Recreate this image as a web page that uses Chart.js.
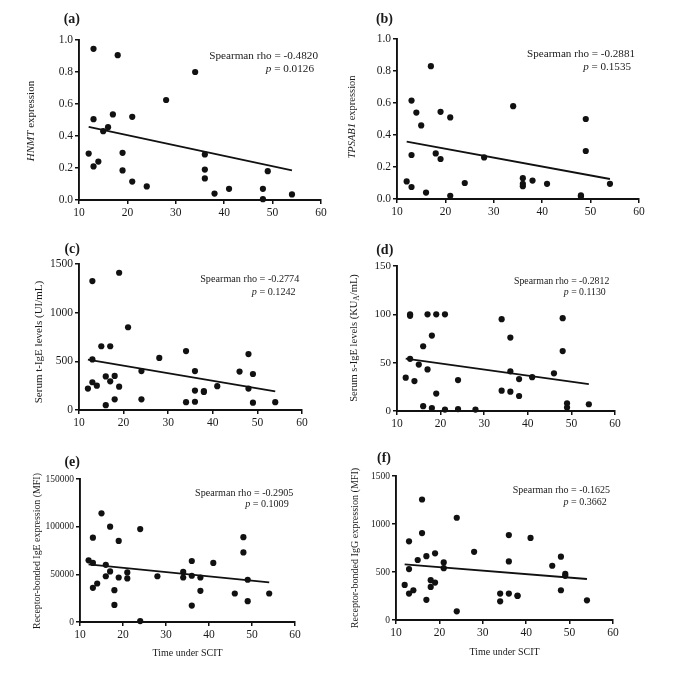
<!DOCTYPE html>
<html><head><meta charset="utf-8">
<script src="https://cdn.jsdelivr.net/npm/chart.js@4.4.0/dist/chart.umd.min.js"></script>
<style>
html,body{margin:0;padding:0;background:#fff;}
#wrap{position:relative;width:685px;height:682px;overflow:hidden;background:#fff;font-family:'Liberation Serif','Times New Roman',serif;color:#1a1a1a;}
canvas{position:absolute;}
.t{position:absolute;white-space:nowrap;line-height:1;}
.ann{transform:translateY(-50%);text-align:right;}
.yt{transform:translate(-50%,-50%) rotate(-90deg);}
.xt{transform:translate(-50%,-50%);}
.lab{font-weight:bold;font-size:14px;transform:translateY(-50%);}
sub{font-size:0.72em;vertical-align:-0.3em;line-height:0;}
</style></head><body><div id="wrap"></div>
<script>
// ---- data ----
const xTicks = [10, 20, 30, 40, 50, 60];
const fitX = [12, 54];

const timeA = [13,18,34,28,17,21,13,16,15,12,19,36,13,14,19,36,49,36,21,24,38,41,48,48,54];
const hnmt  = [0.945,0.905,0.80,0.625,0.535,0.52,0.505,0.455,0.43,0.29,0.295,0.285,0.21,0.24,0.185,0.19,0.18,0.135,0.115,0.085,0.04,0.07,0.07,0.005,0.035];
const fitA  = [0.457, 0.185];
const yTicksA = [0, 0.2, 0.4, 0.6, 0.8, 1.0];

const timeB  = [17,13,14,19,34,21,15,49,49,13,18,19,28,12,13,16,21,24,36,36,36,38,41,48,48,54];
const tpsab1 = [0.83,0.615,0.54,0.545,0.58,0.51,0.46,0.50,0.30,0.275,0.285,0.25,0.26,0.11,0.075,0.04,0.02,0.10,0.13,0.095,0.08,0.115,0.095,0.023,0.015,0.095];
const fitB   = [0.358, 0.125];
const yTicksB = [0, 0.2, 0.4, 0.6, 0.8, 1.0];

const timeC = [19,13,21,15,17,34,48,13,28,24,36,46,49,16,18,13,17,12,14,19,41,48,36,38,38,18,24,34,36,49,54,16];
const tIgE  = [1410,1325,850,655,655,605,575,520,535,400,400,395,370,345,350,285,295,220,250,240,245,220,200,195,185,110,110,80,85,75,80,50];
const fitC  = [518, 191];
const yTicksC = [0, 500, 1000, 1500];

const timeD = [13,13,17,19,21,34,48,18,36,16,48,13,15,17,36,46,12,24,38,41,14,19,34,36,38,16,18,21,24,28,49,49,54];
const sIgE  = [100,98.5,100,100,100,95,96,78,76,67,62,54,48,43,41,39,34.5,32,33,35,31,18,21,20,15.5,5,3,1.5,2,1.5,8,3.5,7];
const fitD  = [54.1, 27.9];
const yTicksD = [0, 50, 100, 150];

const timeE = [15,17,24,13,48,19,48,12,36,13,41,16,17,21,34,16,28,36,19,21,34,38,49,14,13,18,38,46,54,49,18,36,24];
const rbIgE = [114000,100000,97500,88500,89000,85000,73000,64700,64000,62000,62000,60000,53000,52000,52500,48000,48000,48500,46700,45700,46700,46700,44300,40400,35800,33400,32700,29900,29900,21800,17900,17200,1000];
const fitE  = [60440, 41465];
const yTicksE = [0, 50000, 100000, 150000];

const timeF = [16,24,16,36,41,13,28,19,17,48,15,36,21,46,13,21,49,49,18,19,12,18,14,48,13,34,36,38,38,17,34,54,24];
const rbIgG = [1255,1065,905,885,855,820,710,695,665,660,625,610,600,565,530,540,480,460,415,390,365,345,310,310,275,275,275,255,250,210,195,205,90];
const fitF  = [580, 427];
const yTicksF = [0, 500, 1000, 1500];

// ---- layout ----
const wrap = document.getElementById('wrap');
const FONT = "'Liberation Serif','Times New Roman',serif";

const panels = [
  {x: timeA, y: hnmt,   fit: fitA, yTicks: yTicksA, dec: 1, area: {l: 79,  t: 40,  r: 321, b: 200}, yFont: 11.5},
  {x: timeB, y: tpsab1, fit: fitB, yTicks: yTicksB, dec: 1, area: {l: 397, t: 39,  r: 639, b: 199}, yFont: 11.5},
  {x: timeC, y: tIgE,   fit: fitC, yTicks: yTicksC, dec: 0, area: {l: 79,  t: 264, r: 302, b: 410}, yFont: 11.5},
  {x: timeD, y: sIgE,   fit: fitD, yTicks: yTicksD, dec: 0, area: {l: 397, t: 266, r: 615, b: 411}, yFont: 11},
  {x: timeE, y: rbIgE,  fit: fitE, yTicks: yTicksE, dec: 0, area: {l: 80,  t: 479, r: 295, b: 622}, yFont: 9.5},
  {x: timeF, y: rbIgG,  fit: fitF, yTicks: yTicksF, dec: 0, area: {l: 396, t: 476, r: 613, b: 620}, yFont: 9.5}
];

function makeChart(p) {
  const YW = 64, PT = 14, PR = 18, XH = 26;
  const cl = p.area.l - YW, ct = p.area.t - PT;
  const cw = p.area.r - p.area.l + YW + PR;
  const ch = p.area.b - p.area.t + PT + XH;
  const cv = document.createElement('canvas');
  cv.width = cw; cv.height = ch;
  cv.style.left = cl + 'px'; cv.style.top = ct + 'px';
  cv.style.width = cw + 'px'; cv.style.height = ch + 'px';
  wrap.appendChild(cv);
  const ymin = p.yTicks[0], ymax = p.yTicks[p.yTicks.length - 1];
  new Chart(cv, {
    type: 'scatter',
    data: {datasets: [
      {data: p.x.map((v, i) => ({x: v, y: p.y[i]})), backgroundColor: '#111', borderColor: '#111',
       borderWidth: 0, pointRadius: 3.1, pointHoverRadius: 3.1, clip: false},
      {type: 'line', data: fitX.map((v, i) => ({x: v, y: p.fit[i]})), borderColor: '#111',
       borderWidth: 1.8, pointRadius: 0, fill: false, clip: false}
    ]},
    options: {
      responsive: false, animation: false, devicePixelRatio: 1, events: [],
      layout: {padding: {left: 0, top: PT, right: PR, bottom: 0}},
      plugins: {legend: {display: false}, tooltip: {enabled: false}},
      scales: {
        x: {
          type: 'linear', min: 10, max: 60,
          afterBuildTicks: s => { s.ticks = xTicks.map(v => ({value: v})); },
          afterFit: s => { s.height = XH; },
          grid: {drawOnChartArea: false, drawTicks: true, tickLength: 4, color: '#111', lineWidth: 1.5},
          border: {display: true, color: '#111', width: 1.9},
          ticks: {color: '#1a1a1a', font: {family: FONT, size: 11.5}, padding: 2, maxRotation: 0, autoSkip: false,
                  callback: v => String(v)}
        },
        y: {
          type: 'linear', min: ymin, max: ymax,
          afterBuildTicks: s => { s.ticks = p.yTicks.map(v => ({value: v})); },
          afterFit: s => { s.width = YW; },
          grid: {drawOnChartArea: false, drawTicks: true, tickLength: 4, color: '#111', lineWidth: 1.5},
          border: {display: true, color: '#111', width: 1.9},
          ticks: {color: '#1a1a1a', font: {family: FONT, size: p.yFont}, padding: 2, autoSkip: false,
                  callback: v => p.dec ? Number(v).toFixed(p.dec) : String(v)}
        }
      }
    }
  });
}
panels.forEach(makeChart);

function addText(html, cls, style) {
  const d = document.createElement('div');
  d.className = 't ' + cls;
  d.innerHTML = html;
  Object.assign(d.style, style);
  wrap.appendChild(d);
}
const px = v => v + 'px';

// panel labels
[['(a)', 80, 19], ['(b)', 393, 19], ['(c)', 80, 248.5], ['(d)', 393.3, 250], ['(e)', 80, 461.5], ['(f)', 391, 457.5]]
  .forEach(([s, r, y]) => addText(s, 'lab', {right: px(685 - r), top: px(y)}));

// spearman annotations
const ann = [
  ['-0.4820', '0.0126', 318, 55.7, 314, 69, 11.2],
  ['-0.2881', '0.1535', 635, 54.3, 631, 67, 11.1],
  ['-0.2774', '0.1242', 299.3, 279, 295.7, 291.7, 10.2],
  ['-0.2812', '0.1130', 609.3, 281, 605.7, 292.3, 9.8],
  ['-0.2905', '0.1009', 293.3, 493.3, 288.7, 504, 10.1],
  ['-0.1625', '0.3662', 610, 490, 606.7, 502, 10]
];
ann.forEach(([rho, pv, r1, y1, r2, y2, fs]) => {
  addText('Spearman rho = ' + rho, 'ann', {right: px(685 - r1), top: px(y1), fontSize: px(fs)});
  addText('<i>p</i> = ' + pv, 'ann', {right: px(685 - r2), top: px(y2), fontSize: px(fs)});
});

// y-axis titles
[
  ['<i>HNMT</i> expression', 30, 121, 11],
  ['<i>TPSAB1</i> expression', 352, 117, 10.5],
  ['Serum t-IgE levels (UI/mL)', 37.7, 342, 11],
  ['Serum s-IgE levels (KU<sub>A</sub>/mL)', 354, 338, 10.5],
  ['Receptor-bonded IgE expression (MFI)', 37.3, 551, 9.9],
  ['Receptor-bonded IgG expression (MFI)', 355, 548, 10.1]
].forEach(([s, x, y, fs]) => addText(s, 'yt', {left: px(x), top: px(y), fontSize: px(fs)}));

// x-axis titles
[[187.5, 653], [504.5, 652]].forEach(([x, y]) =>
  addText('Time under SCIT', 'xt', {left: px(x), top: px(y), fontSize: px(10)}));
</script></body></html>
